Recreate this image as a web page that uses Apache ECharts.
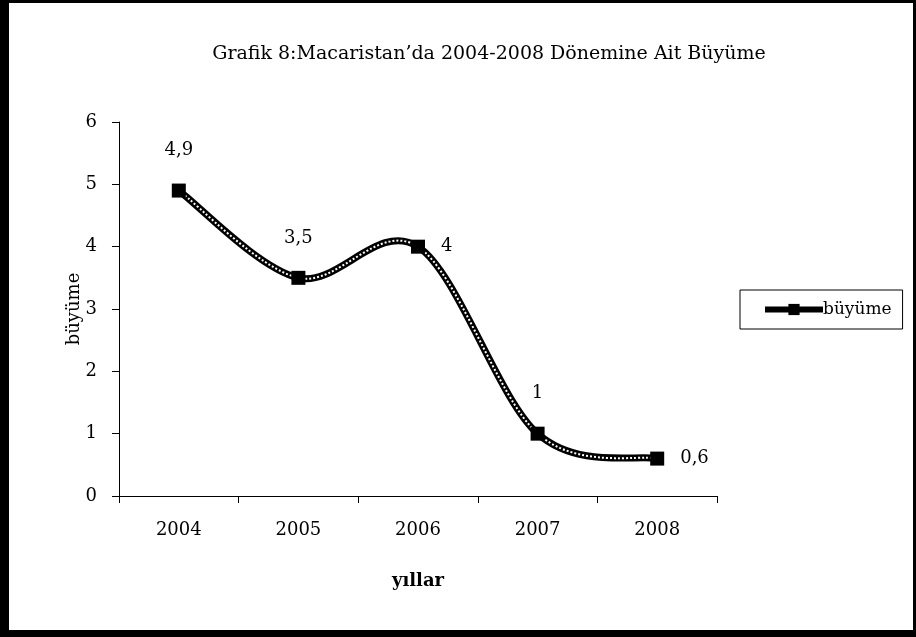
<!DOCTYPE html>
<html><head><meta charset="utf-8">
<script src="https://cdn.jsdelivr.net/npm/echarts@6/dist/echarts.min.js"></script>
<style>html,body{margin:0;padding:0;background:#fff}#c{width:916px;height:637px}</style>
</head><body><div id="c"></div>
<script>
const years = ['2004','2005','2006','2007','2008'];
const growth = [4.9, 3.5, 4, 1, 0.6];
const labelPos = ['top','top','right','top','right'];

const font = 'DejaVu Serif';
const chart = echarts.init(document.getElementById('c'), null, {renderer:'canvas'});
const labeled = growth.map((v,i)=>({value:v, label:{position:labelPos[i], distance: labelPos[i]==='right' ? 16 : 24}}));

// Excel-style (Catmull-Rom) smoothing through the axis coordinates
function smoothPath(api){
  const p = growth.map((v,i)=>api.coord([i, v]));
  let d = 'M' + p[0][0] + ' ' + p[0][1];
  for (let i = 0; i < p.length - 1; i++) {
    const p0 = p[Math.max(i-1,0)], p1 = p[i], p2 = p[i+1], p3 = p[Math.min(i+2,p.length-1)];
    const c1 = [p1[0] + (p2[0]-p0[0])/6, p1[1] + (p2[1]-p0[1])/6];
    const c2 = [p2[0] - (p3[0]-p1[0])/6, p2[1] - (p3[1]-p1[1])/6];
    d += ' C' + c1[0] + ' ' + c1[1] + ' ' + c2[0] + ' ' + c2[1] + ' ' + p2[0] + ' ' + p2[1];
  }
  return d;
}

chart.setOption({
  backgroundColor:'#fff',
  animation:false,
  title:{text:'Grafik 8:Macaristan’da 2004-2008 Dönemine Ait Büyüme', left:484, textAlign:'center', top:40,
    textStyle:{fontFamily:font, fontSize:19, fontWeight:'normal', color:'#000'}},
  graphic:[
    {type:'rect', shape:{x:0,y:0,width:9,height:637}, style:{fill:'#000'}},
    {type:'rect', shape:{x:0,y:0,width:916,height:3}, style:{fill:'#000'}},
    {type:'rect', shape:{x:0,y:630,width:916,height:7}, style:{fill:'#000'}},
    {type:'rect', shape:{x:913,y:0,width:3,height:637}, style:{fill:'#000'}}
  ],
  legend:{data:['büyüme'], left:740, top:290, padding:[11,11,11,22],
    borderColor:'#000', borderWidth:1, itemWidth:58, itemHeight:14, itemGap:0,
    lineStyle:{color:'#000', width:6, opacity:1},
    textStyle:{fontFamily:font, fontSize:17, color:'#000', padding:[0,0,0,-5]}},
  grid:{left:119, right:199, top:122, bottom:141, containLabel:false},
  xAxis:{type:'category', data:years, boundaryGap:true,
    name:'yıllar', nameLocation:'middle', nameGap:76,
    nameTextStyle:{fontFamily:font, fontSize:18, fontWeight:'bold', color:'#000'},
    axisLine:{lineStyle:{color:'#000', width:1}},
    axisTick:{show:true, length:7, lineStyle:{color:'#000'}},
    axisLabel:{fontFamily:font, fontSize:18, color:'#000', margin:25}},
  yAxis:{type:'value', min:0, max:6, interval:1,
    name:'büyüme', nameLocation:'middle', nameGap:36, nameRotate:90, nameMoveOverlap:false,
    nameTextStyle:{fontFamily:font, fontSize:18, color:'#000'},
    splitLine:{show:false},
    axisLine:{show:true, lineStyle:{color:'#000', width:1}},
    axisTick:{show:true, length:7, lineStyle:{color:'#000'}},
    axisLabel:{fontFamily:font, fontSize:18, color:'#000', margin:22}},
  series:[
    {name:'curve', type:'custom', data:growth.map((v,i)=>[i,v]), encode:{x:0,y:1}, z:2, silent:true,
     renderItem:(params, api)=>{
       if (params.dataIndex !== 0) return null;
       const d = smoothPath(api);
       return {type:'group', children:[
         {type:'path', shape:{pathData:d}, style:{fill:'none', stroke:'#000', lineWidth:7}},
         {type:'path', shape:{pathData:d}, style:{fill:'none', stroke:'#fff', lineWidth:2, lineDash:[2,2]}}
       ]};
     }},
    {name:'büyüme', type:'line', data:labeled, symbol:'rect', symbolSize:14,
     itemStyle:{color:'#000'}, lineStyle:{color:'#000', width:0, opacity:0}, z:4,
     label:{show:true, fontFamily:font, fontSize:18, color:'#000',
       formatter:p=>String(p.value).replace('.',',')}}
  ]
});
</script></body></html>
